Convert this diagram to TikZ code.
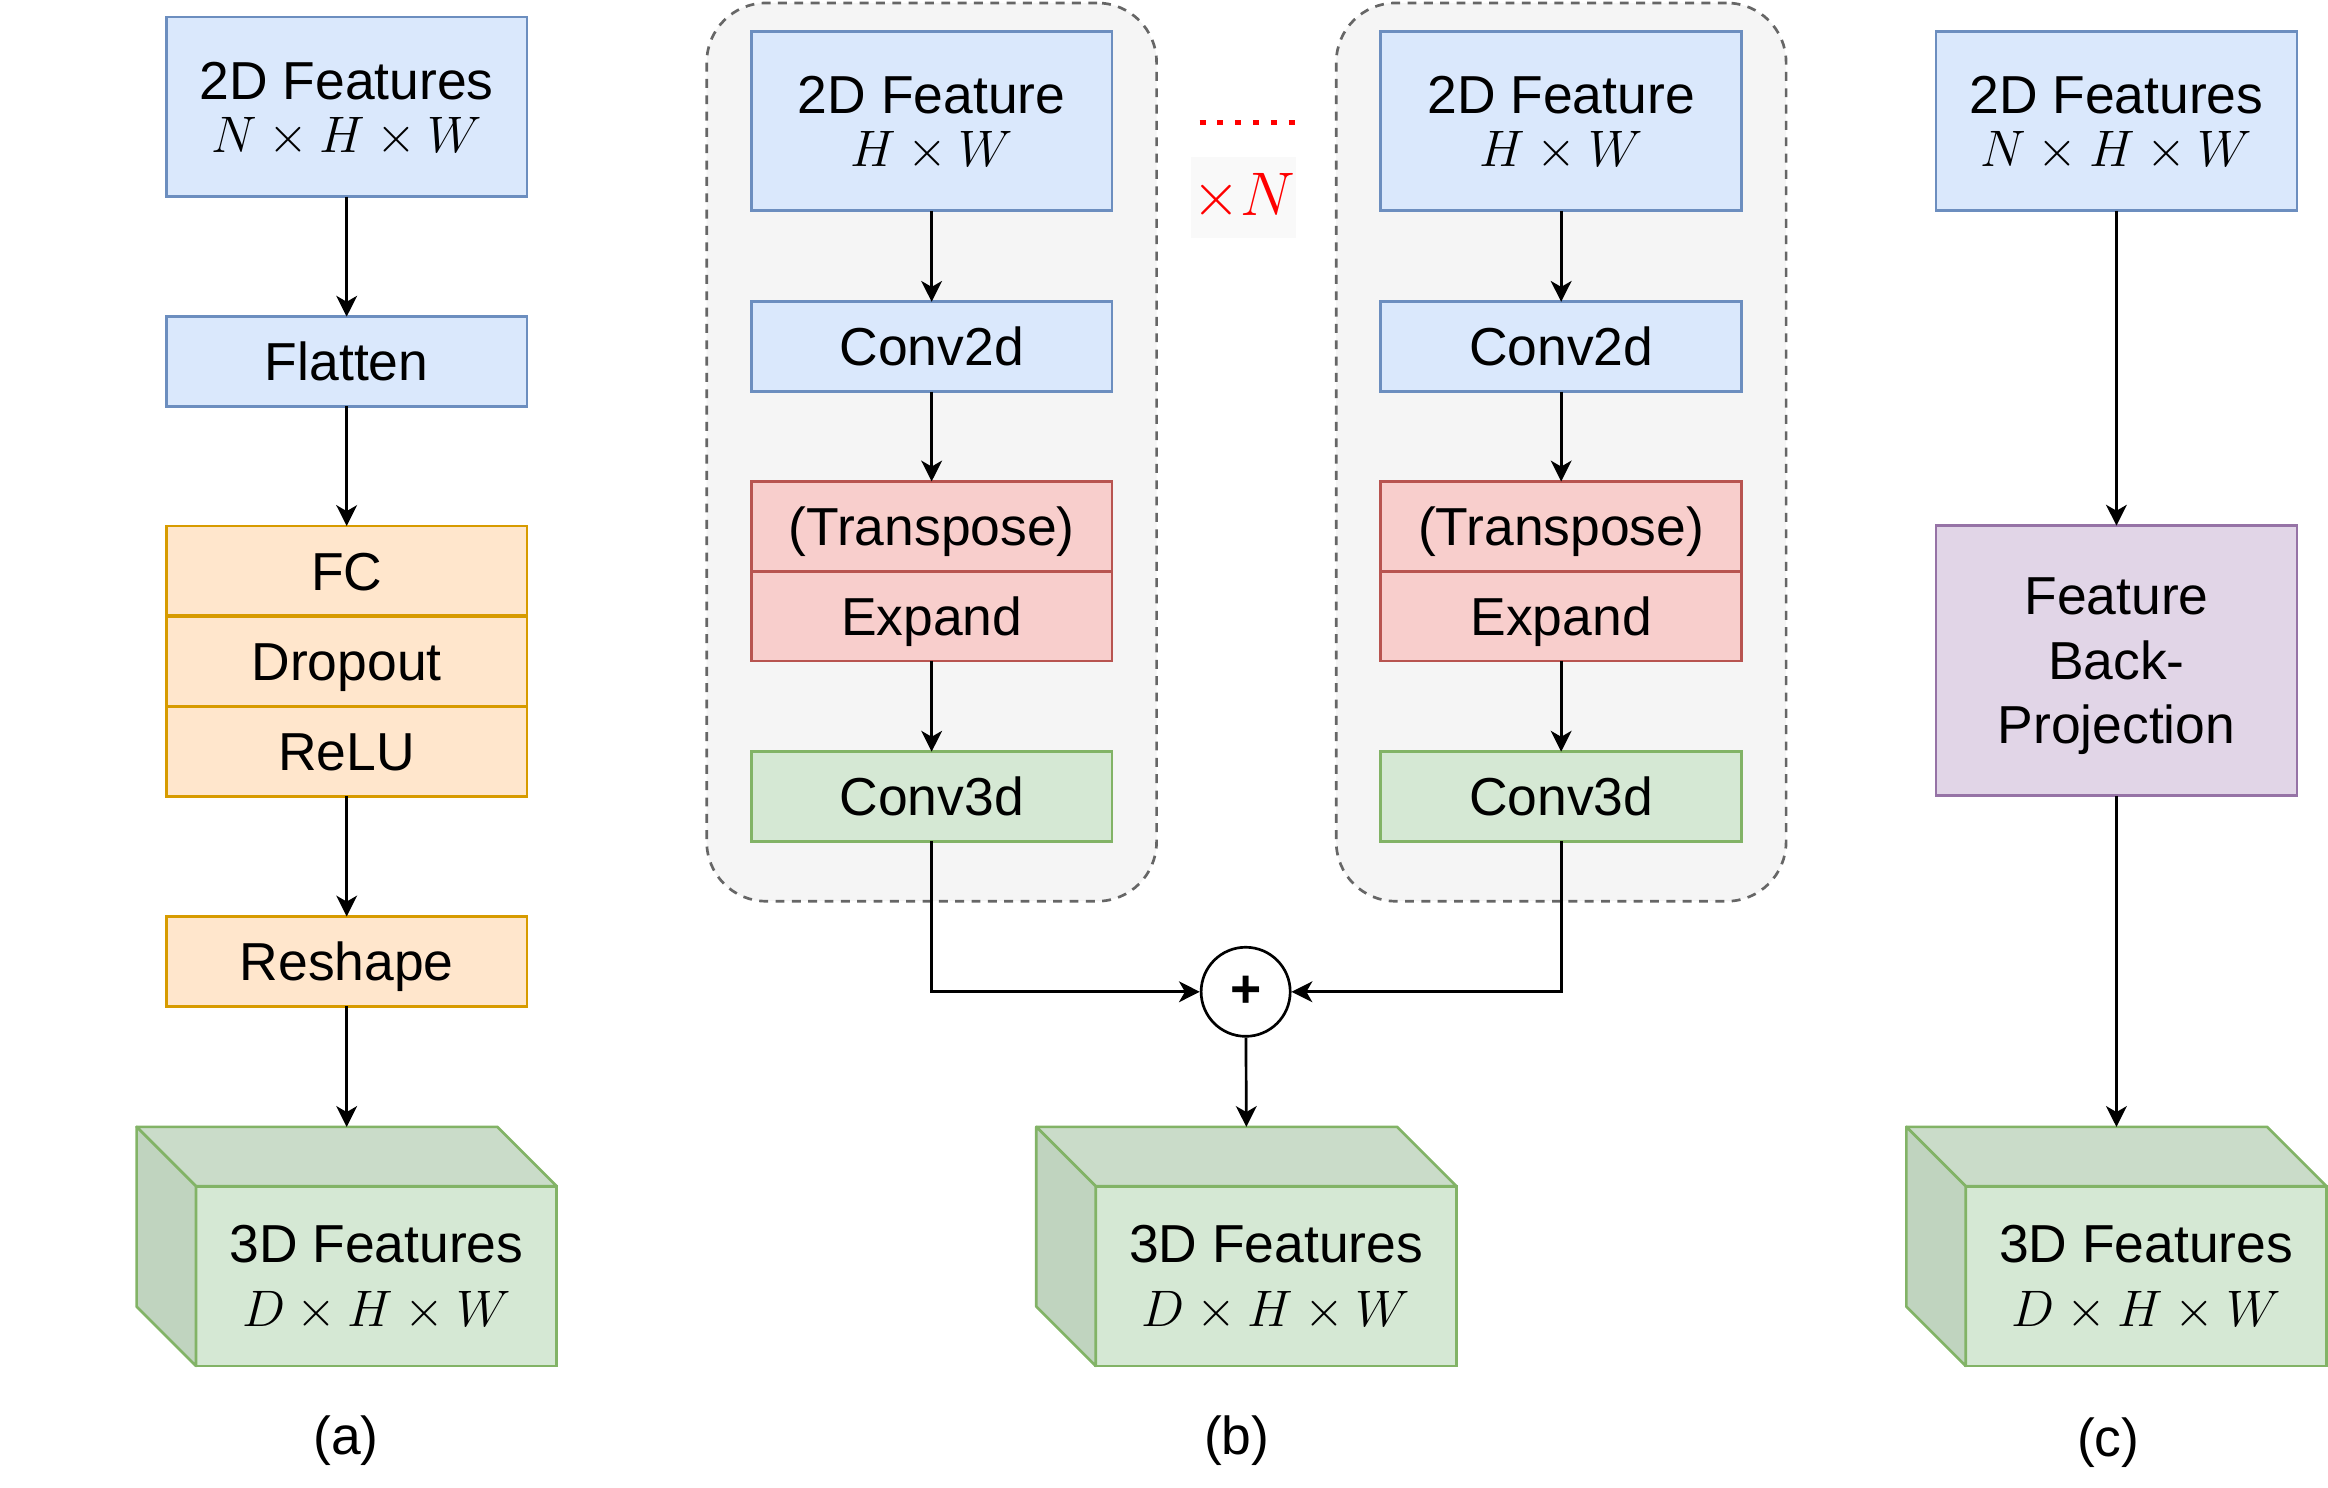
\documentclass[tikz,border=0pt]{standalone}
\usepackage{fontspec}
\setmainfont{Liberation Sans}
\usetikzlibrary{arrows.meta,positioning}

\definecolor{blueFill}{HTML}{DAE8FC}
\definecolor{blueLine}{HTML}{6C8EBF}
\definecolor{orangeFill}{HTML}{FFE6CC}
\definecolor{orangeLine}{HTML}{D79B00}
\definecolor{redFill}{HTML}{F8CECC}
\definecolor{redLine}{HTML}{B85450}
\definecolor{greenFill}{HTML}{D5E8D4}
\definecolor{greenLine}{HTML}{82B366}
\definecolor{greenTop}{HTML}{CADCC9}
\definecolor{greenSide}{HTML}{C0D4BF}
\definecolor{purpleFill}{HTML}{E1D5E7}
\definecolor{purpleLine}{HTML}{9673A6}
\definecolor{groupFill}{HTML}{F5F5F5}
\definecolor{groupLine}{HTML}{666666}
\definecolor{timesFill}{HTML}{F9F9F9}

\newcommand{\dimtext}[1]{{\fontsize{16}{16}\selectfont$#1$}}

\begin{document}
\begin{tikzpicture}
[x=0.5pt,y=-0.5pt,
  boxDecorate/.style={shape=rectangle,draw,line width=0.9pt,inner sep=0pt,outer sep=0pt,
    minimum width=121.5pt,minimum height=30.25pt,align=center,text depth=0pt,
    font=\fontsize{18}{21.6}\selectfont},
  blueBox/.style={boxDecorate,fill=blueFill,draw=blueLine},
  orangeBox/.style={boxDecorate,fill=orangeFill,draw=orangeLine},
  redBox/.style={boxDecorate,fill=redFill,draw=redLine},
  greenBox/.style={boxDecorate,fill=greenFill,draw=greenLine},
  purpleBox/.style={boxDecorate,fill=purpleFill,draw=purpleLine},
  oneLine/.style={text height=13pt},
  tallBox/.style={minimum height=60.5pt},
  groupDecorate/.style={shape=rectangle,draw=groupLine,fill=groupFill,line width=0.9pt,
    dash pattern=on 3pt off 2.5pt,rounded corners=20pt,
    minimum width=151.5pt,minimum height=302.5pt},
  cubeTop/.style={fill=greenTop,draw=greenLine,line width=0.9pt,line join=round},
  cubeSide/.style={fill=greenSide,draw=greenLine,line width=0.9pt,line join=round},
  sumDecorate/.style={shape=circle,draw,line width=0.9pt,fill=white,minimum size=30pt,
    inner sep=0pt,font=\fontsize{18}{18}\selectfont\bfseries},
  lineDecorate/.style={-{Stealth[length=7pt,width=7pt,inset=2pt]},line width=0.9pt},
  dotDecorate/.style={red,line width=2pt,dash pattern=on 2pt off 4pt},
  labelDecorate/.style={font=\fontsize{18}{18}\selectfont}]
\useasboundingbox (0,0) rectangle (1568,1002);
%% dashed groups of (b)
\node (groupL) at (627.5,304.5) [groupDecorate] {};
\node (groupR) at (1051.5,304.5) [groupDecorate] {};
%% input boxes
\node (featA) at (233.5,72) [blueBox,tallBox]
  {2D Features\\[-3.75pt]\dimtext{N\times H\times W}};
\node (featL) at (627.5,81.5) [blueBox,tallBox]
  {2D Feature\\[-3.75pt]\dimtext{H\times W}};
\node (featR) at (1051.5,81.5) [blueBox,tallBox]
  {2D Feature\\[-3.75pt]\dimtext{H\times W}};
\node (featC) at (1425.5,81.5) [blueBox,tallBox]
  {2D Features\\[-3.75pt]\dimtext{N\times H\times W}};
%% one-line boxes
\foreach \nodename/\x/\y/\boxstyle/\boxtext in {
  flat/233.5/243.5/blueBox/Flatten, fc/233.5/384.5/orangeBox/FC,
  drop/233.5/445.5/orangeBox/Dropout, relu/233.5/506/orangeBox/ReLU,
  resh/233.5/647.5/orangeBox/Reshape,
  convL/627.5/233.5/blueBox/Conv2d, transL/627.5/354.5/redBox/(Transpose),
  expL/627.5/415/redBox/Expand, conv3L/627.5/536.5/greenBox/Conv3d,
  convR/1051.5/233.5/blueBox/Conv2d, transR/1051.5/354.5/redBox/(Transpose),
  expR/1051.5/415/redBox/Expand, conv3R/1051.5/536.5/greenBox/Conv3d}
{
  \node (\nodename) at (\x,\y) [\boxstyle,oneLine] {\boxtext};
}
\node (backproj) at (1425.5,445) [purpleBox,minimum height=91pt]
  {Feature\\Back-\\Projection};
%% 3D feature cubes
\foreach \nodename/\x in {cubeA/253.5, cubeB/859.5, cubeC/1445.5}
{
  \node (\nodename) at (\x,859.5) [greenBox,tallBox]
    {3D Features\\\dimtext{D\times H\times W}};
  \filldraw[cubeTop] (\nodename.north west) -- ++(-40,-40)
    -- ([shift={(-40,-40)}]\nodename.north east) -- (\nodename.north east) -- cycle;
  \filldraw[cubeSide] (\nodename.north west) -- ++(-40,-40)
    -- ([shift={(-40,-40)}]\nodename.south west) -- (\nodename.south west) -- cycle;
  \path (\nodename.north) ++(-20,-40) coordinate (\nodename-top);
}
%% sum and repeat mark
\node (plus) at (839,668) [sumDecorate] {+};
\node (times) at (837.5,133) [fill=timesFill,minimum width=35.5pt,minimum height=27pt,
  inner sep=0pt,text=red,font=\fontsize{22}{22}\selectfont] {$\times N$};
\coordinate (dotsL) at (808,82.5);
\coordinate (dotsR) at (872,82.5);
\draw[dotDecorate] (dotsL) -- (dotsR);
%% edges
\path
\foreach \startnode/\endnode in {
  featA/flat, flat/fc, relu/resh, resh/cubeA-top,
  featL/convL, convL/transL, expL/conv3L,
  featR/convR, convR/transR, expR/conv3R,
  featC/backproj, backproj/cubeC-top, plus/cubeB-top}
{
  (\startnode) edge[lineDecorate] (\endnode)
};
\draw[lineDecorate] (conv3L) |- (plus);
\draw[lineDecorate] (conv3R) |- (plus);
%% captions
\node (labA) at (233,970) [labelDecorate] {(a)};
\node (labB) at (833,970) [labelDecorate] {(b)};
\node (labC) at (1420,972) [labelDecorate] {(c)};
\end{tikzpicture}
\end{document}
